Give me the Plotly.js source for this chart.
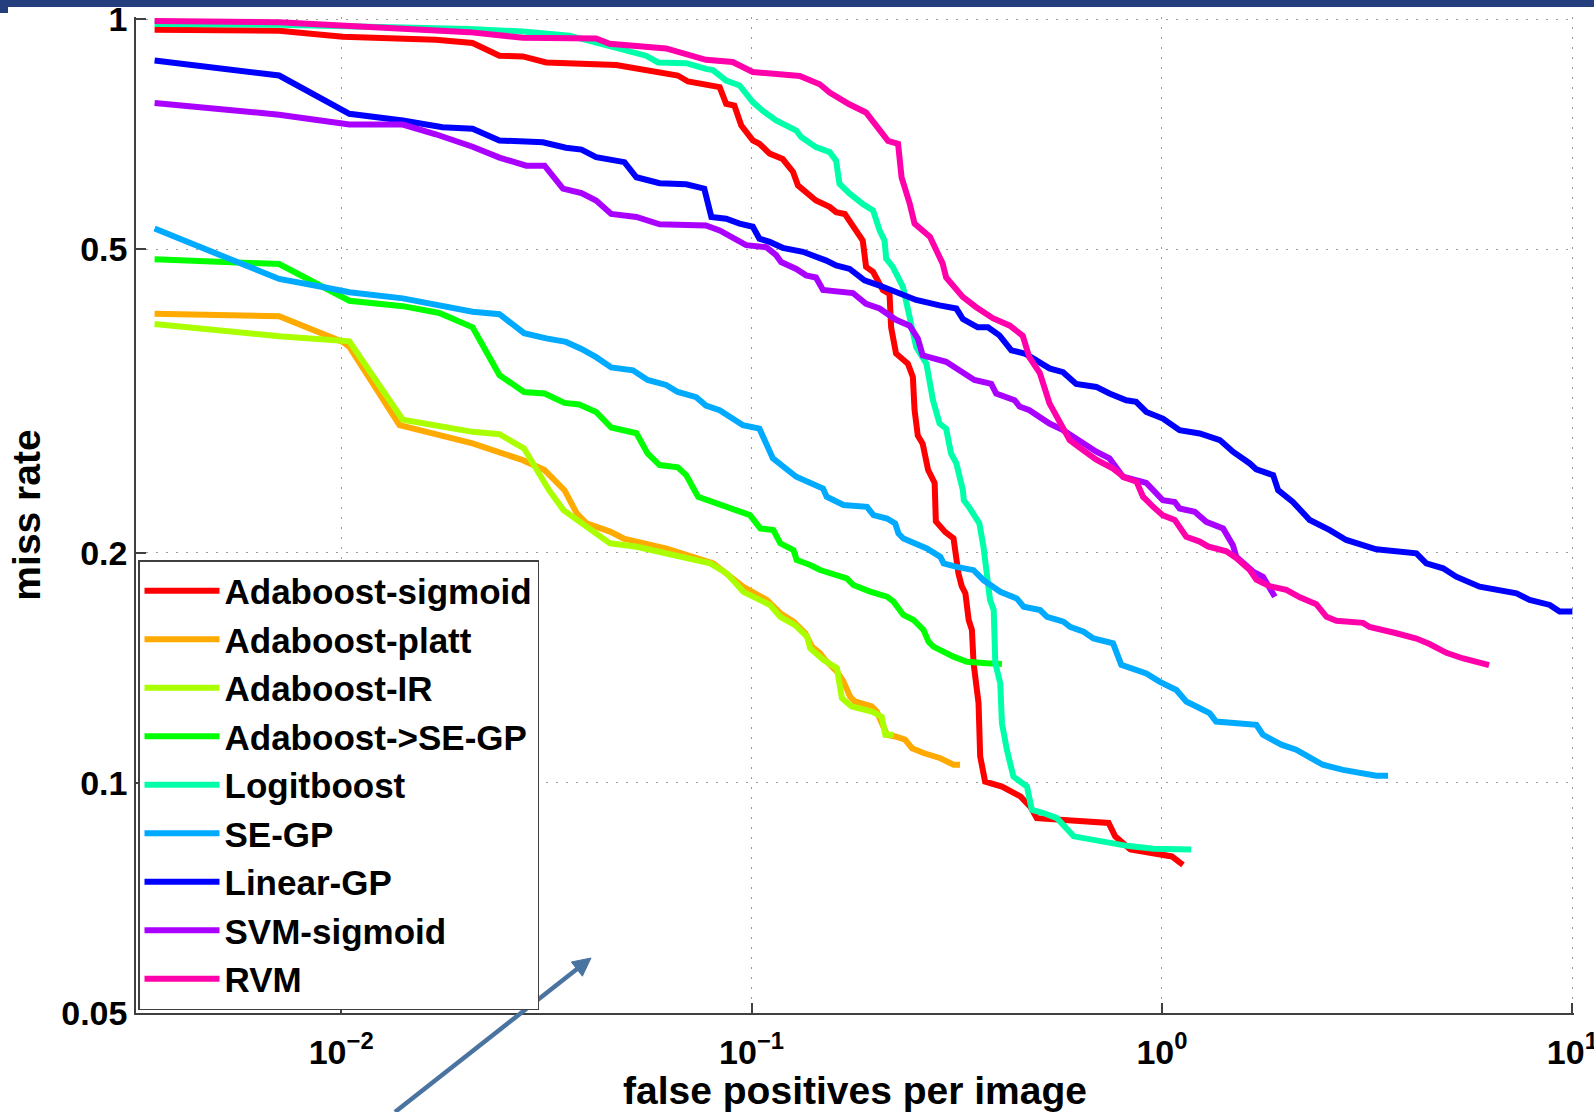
<!DOCTYPE html>
<html>
<head>
<meta charset="utf-8">
<script src="https://cdn.plot.ly/plotly-3.0.1.min.js"></script>
<style>
  html, body { margin: 0; padding: 0; background: #ffffff; }
  #chart { width: 1594px; height: 1112px; }
</style>
</head>
<body>
<div id="chart"></div>
<script>
// ---- Data ----
const seriesNames = ["Adaboost-sigmoid", "Adaboost-platt", "Adaboost-IR", "Adaboost->SE-GP",
  "Logitboost", "SE-GP", "Linear-GP", "SVM-sigmoid", "RVM"];
const seriesColors = ["#ff0000", "#ffaa00", "#aaff00", "#00ff00", "#00ffaa", "#00aaff", "#0000ff", "#aa00ff", "#ff00aa"];

const adaSigmoidX = [0.00351,0.00706,0.01009,0.0170,0.0209,0.0243,0.0277,0.0316,0.0468,0.0564,0.0661,0.0700,0.0746,0.0836,0.0867,0.0908,0.0944,0.1007,0.1045,0.1107,0.1191,0.1262,0.1297,0.1371,0.1435,0.1549,0.1607,0.1687,0.1782,0.1866,0.1901,0.1977,0.2089,0.2168,0.2188,0.2249,0.2404,0.2472,0.2495,0.2541,0.2612,0.2692,0.2793,0.2812,0.2965,0.3105,0.3192,0.3251,0.3319,0.3381,0.3443,0.3475,0.3573,0.3606,0.3707,0.4074,0.4519,0.4775,0.4955,0.5546,0.7413,0.7691,0.8375,1.057,1.125];
const adaSigmoidY = [0.969,0.966,0.949,0.940,0.931,0.896,0.894,0.878,0.871,0.858,0.844,0.829,0.825,0.815,0.775,0.771,0.726,0.694,0.687,0.667,0.656,0.631,0.606,0.592,0.579,0.568,0.559,0.556,0.534,0.513,0.474,0.467,0.442,0.437,0.395,0.365,0.354,0.340,0.308,0.285,0.278,0.257,0.247,0.220,0.213,0.209,0.188,0.181,0.177,0.1634,0.1585,0.1434,0.1272,0.1083,0.1004,0.0989,0.0960,0.0931,0.0899,0.0895,0.0886,0.0851,0.0818,0.0801,0.0781];

const adaPlattX = [0.00351,0.00706,0.01009,0.01047,0.01387,0.0209,0.0277,0.0313,0.0350,0.0375,0.0396,0.0452,0.0488,0.0621,0.0807,0.0853,0.0955,0.1089,0.1175,0.1265,0.1352,0.1403,0.1469,0.151,0.1614,0.1675,0.1738,0.1786,0.1963,0.2018,0.2075,0.2138,0.2239,0.2366,0.246,0.2624,0.2884,0.3105,0.3221];
const adaPlattY = [0.4116,0.4083,0.378,0.3723,0.294,0.2783,0.2646,0.2568,0.2417,0.2254,0.2187,0.2133,0.2089,0.2027,0.1938,0.1890,0.1806,0.1736,0.1668,0.1626,0.1570,0.1508,0.1478,0.1449,0.1399,0.1357,0.1297,0.1278,0.1259,0.1240,0.1197,0.1156,0.1150,0.1139,0.1110,0.1094,0.1077,0.1056,0.1056];

const adaIRX = [0.00351,0.00706,0.01047,0.01413,0.0209,0.0243,0.0279,0.0321,0.0348,0.0382,0.0452,0.0525,0.0621,0.0793,0.0871,0.0955,0.1109,0.1175,0.1276,0.1365,0.139,0.1496,0.1614,0.166,0.1754,0.1963,0.2075,0.2118,0.2218];
const adaIRY = [0.399,0.3844,0.3787,0.2990,0.2882,0.2861,0.2741,0.2417,0.2276,0.2198,0.2059,0.2038,0.1998,0.1938,0.1880,0.1779,0.1710,0.1650,0.1609,0.1554,0.1500,0.1449,0.1413,0.1291,0.1259,0.1240,0.1221,0.1156,0.1156];

const adaSEGPX = [0.00351,0.00706,0.01047,0.01413,0.01734,0.0209,0.0243,0.0279,0.0313,0.0350,0.0380,0.0418,0.0455,0.0524,0.0558,0.0597,0.0661,0.0693,0.0726,0.0741,0.0991,0.1050,0.1130,0.1175,0.1265,0.1288,0.139,0.1469,0.1706,0.177,0.1945,0.2138,0.2218,0.2344,0.2483,0.2624,0.2698,0.2773,0.3105,0.335,0.3741,0.4074];
const adaSEGPY = [0.485,0.478,0.428,0.421,0.4125,0.395,0.342,0.325,0.3236,0.3145,0.313,0.306,0.292,0.287,0.270,0.2607,0.2589,0.2529,0.2417,0.2369,0.2242,0.2154,0.2143,0.2059,0.2018,0.1958,0.1929,0.1900,0.1853,0.1816,0.1780,0.1753,0.1727,0.1659,0.1634,0.1586,0.1531,0.1508,0.1463,0.1441,0.1434,0.1431];

const logitX = [0.00351,0.00706,0.0205,0.0277,0.0360,0.0468,0.0553,0.0592,0.0693,0.0774,0.0805,0.0867,0.0935,0.1007,0.1064,0.1148,0.1285,0.1321,0.1435,0.155,0.1607,0.1637,0.1734,0.1866,0.1977,0.2051,0.2109,0.2128,0.2208,0.2339,0.2382,0.2472,0.2518,0.2667,0.2767,0.2871,0.2979,0.3062,0.3155,0.3273,0.3289,0.3381,0.3589,0.3673,0.3741,0.3811,0.389,0.3926,0.4036,0.4074,0.4188,0.4345,0.4688,0.4819,0.514,0.5546,0.6095,0.708,0.822,0.955,1.067,1.178];
const logitY = [0.986,0.984,0.971,0.964,0.952,0.919,0.896,0.878,0.876,0.861,0.858,0.831,0.819,0.779,0.759,0.737,0.715,0.701,0.680,0.670,0.653,0.609,0.591,0.573,0.562,0.529,0.513,0.486,0.474,0.446,0.424,0.391,0.372,0.354,0.317,0.2955,0.291,0.270,0.262,0.2416,0.2345,0.230,0.2187,0.2038,0.1862,0.1736,0.1685,0.1434,0.135,0.1197,0.1105,0.1019,0.0989,0.0922,0.0913,0.0899,0.0851,0.0838,0.0827,0.0820,0.0818,0.0818];

const seGPX = [0.00351,0.00706,0.00902,0.01047,0.01413,0.0170,0.0209,0.0243,0.0279,0.0316,0.0353,0.0385,0.0418,0.0455,0.0514,0.0558,0.0619,0.0661,0.0733,0.0774,0.0836,0.0953,0.1045,0.1127,0.1191,0.1285,0.1493,0.1524,0.1675,0.191,0.1982,0.2138,0.2239,0.228,0.2344,0.2529,0.2673,0.2884,0.2938,0.3162,0.3475,0.3673,0.4036,0.4426,0.4603,0.5047,0.5248,0.5754,0.597,0.6442,0.6808,0.760,0.796,0.916,0.986,1.084,1.146,1.213,1.306,1.355,1.698,1.762,1.954,2.123,2.291,2.466,2.761,3.090,3.327,3.556];
const seGPY = [0.532,0.457,0.446,0.439,0.431,0.422,0.414,0.411,0.388,0.382,0.378,0.370,0.361,0.350,0.347,0.337,0.332,0.325,0.320,0.312,0.3076,0.294,0.291,0.266,0.2594,0.2517,0.2430,0.2370,0.2311,0.2299,0.2242,0.2219,0.2186,0.2121,0.2089,0.2048,0.2027,0.1977,0.1938,0.1918,0.1899,0.1843,0.1779,0.1744,0.1701,0.1684,0.1650,0.1626,0.1601,0.1577,0.1546,0.1523,0.1427,0.1391,0.1357,0.1323,0.1278,0.1259,0.1234,0.1203,0.1191,0.1156,0.1122,0.1105,0.1077,0.1056,0.1040,0.1030,0.1022,0.1022];

const linGPX = [0.00351,0.00706,0.01047,0.01413,0.01766,0.0209,0.0243,0.0310,0.0353,0.0385,0.0418,0.0468,0.0490,0.0524,0.0597,0.0693,0.0767,0.0798,0.0867,0.0935,0.1007,0.1045,0.1107,0.1191,0.1334,0.1521,0.1607,0.1734,0.1884,0.2051,0.2249,0.2518,0.2871,0.3155,0.3273,0.3556,0.3767,0.4018,0.4295,0.4624,0.4797,0.532,0.574,0.618,0.692,0.745,0.8185,0.865,0.916,1.005,1.104,1.236,1.384,1.489,1.637,1.698,1.866,1.919,2.084,2.168,2.291,2.564,2.812,3.327,4.169,4.406,4.842,5.212,5.943,7.311,7.870,8.810,9.311,10.0];
const linGPY = [0.883,0.844,0.752,0.737,0.722,0.719,0.694,0.690,0.679,0.675,0.660,0.653,0.650,0.621,0.610,0.608,0.600,0.551,0.548,0.540,0.535,0.516,0.511,0.502,0.496,0.483,0.476,0.471,0.455,0.448,0.439,0.429,0.422,0.418,0.405,0.395,0.395,0.3855,0.3685,0.365,0.361,0.349,0.345,0.333,0.330,0.3235,0.317,0.3155,0.306,0.300,0.2897,0.2868,0.2811,0.2714,0.2620,0.2573,0.2529,0.2417,0.2333,0.2276,0.2209,0.2143,0.2080,0.2022,0.1998,0.1939,0.1910,0.1862,0.1807,0.1771,0.1736,0.1710,0.1676,0.1676];

const svmX = [0.00351,0.00706,0.01047,0.01413,0.0170,0.0209,0.0243,0.02825,0.0313,0.0347,0.0385,0.0418,0.0455,0.0524,0.0597,0.0774,0.0836,0.0899,0.0970,0.1086,0.1148,0.118,0.1285,0.1358,0.1435,0.1493,0.1766,0.1901,0.2051,0.2249,0.2427,0.2541,0.2612,0.2979,0.3273,0.3491,0.3837,0.3945,0.4375,0.4498,0.4753,0.532,0.574,0.641,0.692,0.745,0.8035,0.916,1.005,1.074,1.104,1.202,1.282,1.409,1.489,1.517,1.667,1.762,1.828,1.884];
const svmY = [0.777,0.750,0.728,0.728,0.707,0.681,0.659,0.643,0.643,0.600,0.592,0.579,0.556,0.551,0.539,0.537,0.529,0.518,0.506,0.503,0.491,0.481,0.471,0.462,0.459,0.442,0.438,0.424,0.418,0.404,0.397,0.382,0.363,0.356,0.345,0.337,0.333,0.3235,0.317,0.311,0.3076,0.2955,0.2897,0.2783,0.2714,0.2660,0.2517,0.2471,0.2345,0.2333,0.2287,0.2265,0.2197,0.2154,0.2048,0.1978,0.1891,0.1862,0.1807,0.1753];

const rvmX = [0.00351,0.00706,0.0205,0.0277,0.0418,0.0451,0.0619,0.0774,0.0899,0.1007,0.131,0.1466,0.155,0.173,0.190,0.201,0.215,0.2275,0.232,0.243,0.2495,0.272,0.292,0.298,0.327,0.352,0.387,0.426,0.458,0.475,0.504,0.532,0.574,0.596,0.641,0.692,0.760,0.811,0.867,0.899,0.951,1.005,1.074,1.146,1.236,1.294,1.435,1.517,1.637,1.698,1.828,2.009,2.168,2.377,2.518,2.661,3.090,3.206,3.724,4.169,4.487,4.932,5.420,5.834,6.266];
const rvmY = [0.995,0.991,0.962,0.946,0.944,0.929,0.916,0.885,0.879,0.853,0.843,0.822,0.802,0.774,0.755,0.726,0.693,0.687,0.621,0.573,0.540,0.519,0.479,0.459,0.433,0.420,0.406,0.397,0.385,0.361,0.344,0.314,0.290,0.281,0.273,0.265,0.258,0.251,0.248,0.237,0.230,0.224,0.221,0.210,0.207,0.204,0.201,0.197,0.190,0.1845,0.181,0.179,0.175,0.1714,0.165,0.163,0.162,0.160,0.157,0.1545,0.152,0.148,0.1455,0.144,0.1426];

const xTickVals = [0.01, 0.1, 1, 10];
const xTickText = ["10<sup>\u22122</sup>", "10<sup>\u22121</sup>", "10<sup>0</sup>", "10<sup>1</sup>"];
const yTickVals = [0.05, 0.1, 0.2, 0.5, 1];
const yTickText = ["0.05", "0.1", "0.2", "0.5", "1"];

// ---- Build traces ----
const xs = [adaSigmoidX, adaPlattX, adaIRX, adaSEGPX, logitX, seGPX, linGPX, svmX, rvmX];
const ys = [adaSigmoidY, adaPlattY, adaIRY, adaSEGPY, logitY, seGPY, linGPY, svmY, rvmY];

const traces = seriesNames.map((name, i) => ({
  type: "scatter",
  mode: "lines",
  name: name,
  x: xs[i],
  y: ys[i],
  line: { color: seriesColors[i], width: 6 },
  hoverinfo: "name+x+y"
}));

const FONT = "Liberation Sans, Arial, Helvetica, sans-serif";
const AX = "#404040";
const ARROW = "#4a74a0";

// Figure geometry helpers (plot area: left 136, width 1438, top 17, bottom 1013)
const L = 136, W = 1438, B = 1013, H = 996;
const px = X => (X - L) / W;
const py = Y => (B - Y) / H;

const layout = {
  width: 1594,
  height: 1112,
  margin: { l: 136, r: 20, t: 17, b: 99, pad: 0 },
  paper_bgcolor: "#ffffff",
  plot_bgcolor: "#ffffff",
  font: { family: FONT, color: "#000000", size: 34, weight: "bold" },
  showlegend: true,
  xaxis: {
    type: "log",
    range: [-2.5, 1.004],
    tickvals: xTickVals,
    ticktext: xTickText,
    ticks: "inside",
    ticklen: 10,
    tickwidth: 1.5,
    tickcolor: AX,
    ticklabelstandoff: 8,
    ticklabeloverflow: "allow",
    showline: true,
    linecolor: AX,
    linewidth: 1.5,
    showgrid: true,
    gridcolor: "#9a9a9a",
    gridwidth: 1,
    griddash: "2px,8px",
    zeroline: false,
    automargin: false,
    tickfont: { family: FONT, size: 34, weight: "bold", color: "#000" },
    title: { text: "false positives per image", font: { family: FONT, size: 39, weight: "bold", color: "#000" }, standoff: 13 }
  },
  yaxis: {
    type: "log",
    range: [Math.log10(0.05) - 0.0004, 0.003],
    tickvals: yTickVals,
    ticktext: yTickText,
    ticks: "inside",
    ticklen: 10,
    tickwidth: 1.5,
    tickcolor: AX,
    showline: true,
    linecolor: AX,
    linewidth: 1.5,
    showgrid: true,
    gridcolor: "#9a9a9a",
    gridwidth: 1,
    griddash: "2px,8px",
    zeroline: false,
    automargin: false,
    tickfont: { family: FONT, size: 34, weight: "bold", color: "#000" },
    title: { text: "miss rate", font: { family: FONT, size: 39, weight: "bold", color: "#000" }, standoff: 9 }
  },
  legend: {
    x: px(138), y: py(560), xanchor: "left", yanchor: "top",
    bgcolor: "#ffffff",
    bordercolor: AX,
    borderwidth: 1.5,
    font: { family: FONT, size: 35, weight: "bold", color: "#000" },
    itemwidth: 75,
    tracegroupgap: 0
  },
  shapes: [
    // slide band across the top
    { type: "rect", xref: "paper", yref: "paper", x0: px(0), x1: px(1594), y0: py(7), y1: py(0),
      fillcolor: "#253f7e", line: { width: 0 }, layer: "above" },
    { type: "rect", xref: "paper", yref: "paper", x0: px(0), x1: px(8), y0: py(13), y1: py(7),
      fillcolor: "#253f7e", line: { width: 0 }, layer: "above" },
    // pointer arrow: shaft and head
    { type: "line", xref: "paper", yref: "paper", x0: px(395), y0: py(1112), x1: px(577), y1: py(969),
      line: { color: ARROW, width: 4.5 }, layer: "above" },
    { type: "path", xref: "paper", yref: "paper",
      path: "M " + px(591) + " " + py(958) + " L " + px(582.4) + " " + py(976.2) + " L " + px(571.3) + " " + py(962.0) + " Z",
      fillcolor: ARROW, line: { color: ARROW, width: 1 }, layer: "above" }
  ]
};

Plotly.newPlot("chart", traces, layout, { displayModeBar: false });
</script>
</body>
</html>
